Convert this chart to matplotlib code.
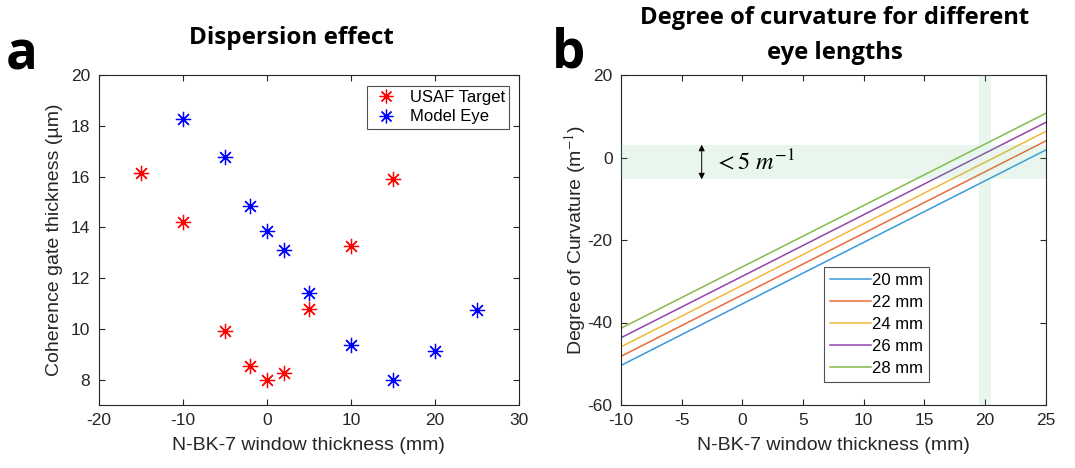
import numpy as np
import matplotlib
matplotlib.use("Agg")
import matplotlib.pyplot as plt

plt.rcParams['font.family'] = ['Liberation Sans', 'DejaVu Sans']
plt.rcParams['mathtext.fontset'] = 'stix'
plt.rcParams['axes.unicode_minus'] = False

# ---- Panel a data ----
usaf_x = [-15, -10, -5, -2, 0, 2, 5, 10, 15]
usaf_y = [16.15, 14.2, 9.9, 8.55, 8.0, 8.27, 10.78, 13.25, 15.92]
eye_x = [-10, -5, -2, 0, 2, 5, 10, 15, 20, 25]
eye_y = [18.28, 16.78, 14.83, 13.85, 13.12, 11.4, 9.36, 8.0, 9.12, 10.74]

# ---- Panel b data ----
window_x = [-10, 25]
eye_lengths = ['20 mm', '22 mm', '24 mm', '26 mm', '28 mm']
curv_start = [-50.4, -48.2, -45.9, -43.7, -41.4]
curv_end = [1.8, 4.0, 6.3, 8.5, 10.7]
line_colors = ['#3a98dc', '#ec6a3a', '#f2b93a', '#9146ad', '#86bb4c']
band_y = (-5.3, 3.1)
band_x = (19.5, 20.5)

W, H = 1075, 468
fig = plt.figure(figsize=(W / 100, H / 100), dpi=100)

axc = '#262626'
tick_fs = 12.5
lab_fs = 14


def style(ax):
    for s in ax.spines.values():
        s.set_color(axc)
        s.set_linewidth(0.8)
    ax.tick_params(direction='in', top=True, right=True, length=4, width=0.8,
                   colors=axc, labelsize=tick_fs, pad=6)


def pos(l, t, r, b):
    return [l / W, 1 - b / H, (r - l) / W, (b - t) / H]


ax1 = fig.add_axes(pos(98.7, 75.3, 519, 405))
star = (8, 2, 0)
ax1.plot(usaf_x, usaf_y, linestyle='none', marker=star, color='red', markersize=11,
         markeredgewidth=0.9, label='USAF Target')
ax1.plot(eye_x, eye_y, linestyle='none', marker=star, color='blue', markersize=11,
         markeredgewidth=0.9, label='Model Eye')
ax1.set_xlim(-20, 30)
ax1.set_ylim(7, 20)
ax1.set_xticks(range(-20, 31, 10))
ax1.set_yticks(range(8, 21, 2))
style(ax1)
ax1.set_xlabel('N-BK-7 window thickness (mm)', fontsize=lab_fs, color=axc, labelpad=6)
ax1.set_ylabel('Coherence gate thickness (µm)', fontsize=lab_fs, color=axc, labelpad=6)
leg1 = ax1.legend(loc='upper right', bbox_to_anchor=((509 - 98.7) / 420.3, (405 - 86) / 329.7),
                  fontsize=12, frameon=True, fancybox=False,
                  edgecolor=axc, borderpad=0.25, handletextpad=0.5, labelspacing=0.25,
                  borderaxespad=0, handlelength=1.8, markerscale=0.9)
leg1.get_frame().set_linewidth(0.8)

ax2 = fig.add_axes(pos(621, 75, 1045.7, 405))
for lab, ys, ye, c in zip(eye_lengths, curv_start, curv_end, line_colors):
    ax2.plot(window_x, [ys, ye], color=c, linewidth=1.1, label=lab)
band_c = (0.4, 0.79, 0.55)
ax2.fill_between([-10, band_x[0]], band_y[0], band_y[1], color=band_c, alpha=0.15,
                 linewidth=0, zorder=3)
ax2.fill_between([band_x[1], 25], band_y[0], band_y[1], color=band_c, alpha=0.15,
                 linewidth=0, zorder=3)
ax2.axvspan(band_x[0], band_x[1], color=band_c, alpha=0.15, linewidth=0, zorder=3)
ax2.annotate('', xy=(-3.35, band_y[1]), xytext=(-3.35, band_y[0]),
             arrowprops=dict(arrowstyle='<|-|>', color='black', lw=0.7,
                             mutation_scale=9, shrinkA=0, shrinkB=0))
ax2.text(-2.3, -1.1, r'$<5\ m^{-1}$', fontsize=17.5, va='center', ha='left')
ax2.set_xlim(-10, 25)
ax2.set_ylim(-60, 20)
ax2.set_xticks(range(-10, 26, 5))
ax2.set_yticks(range(-60, 21, 20))
style(ax2)
ax2.set_xlabel('N-BK-7 window thickness (mm)', fontsize=lab_fs, color=axc, labelpad=6)
ax2.set_ylabel(r'Degree of Curvature (m$^{-1}$)', fontsize=lab_fs, color=axc, labelpad=0)
leg2 = ax2.legend(loc='lower left', bbox_to_anchor=((824 - 621) / 424.7, (405 - 381.7) / 330),
                  fontsize=12, frameon=True, fancybox=False, edgecolor=axc,
                  borderpad=0.35, handlelength=2.45, handletextpad=0.1,
                  labelspacing=0.42, borderaxespad=0)
leg2.get_frame().set_linewidth(0.8)

tfont = dict(family=['Open Sans', 'DejaVu Sans'], fontweight='bold', color='black')
fig.text(291 / W, 1 - 38 / H, 'Dispersion effect', fontsize=17.5, ha='center', va='center', **tfont)
fig.text(835 / W, 1 - 18 / H, 'Degree of curvature for different', fontsize=17.1,
         ha='center', va='center', **tfont)
fig.text(835 / W, 1 - 53 / H, 'eye lengths', fontsize=17.1, ha='center', va='center', **tfont)
fig.text(6 / W, 1 - 70 / H, 'a', fontsize=38, ha='left', va='baseline', **tfont)
fig.text(552 / W, 1 - 68 / H, 'b', fontsize=38, ha='left', va='baseline', **tfont)

fig.savefig('out.png', dpi=100)
